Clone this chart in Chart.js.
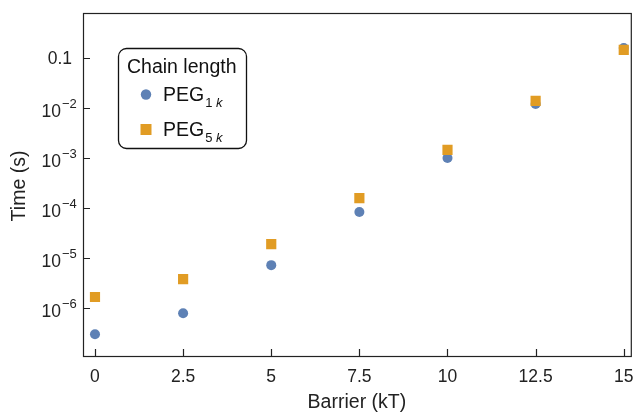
<!DOCTYPE html>
<html>
<head>
<meta charset="utf-8">
<script src="https://cdn.jsdelivr.net/npm/chart.js"></script>
<style>
  html, body { margin: 0; padding: 0; background: #fff; }
  #wrap { width: 638px; height: 413px; }
</style>
</head>
<body>
<div id="wrap"><canvas id="c" width="638" height="413"></canvas></div>
<script>
// barrier heights (kT)
const barrier = [0, 2.5, 5, 7.5, 10, 12.5, 15];
// times (s) per chain length
const peg1k = [3.0e-7, 7.9e-7, 7.2e-6, 8.3e-5, 1.0e-3, 1.2e-2, 0.158];
const peg5k = [1.66e-6, 3.8e-6, 1.9e-5, 1.58e-4, 1.45e-3, 1.38e-2, 0.145];

const xTicks = [0, 2.5, 5, 7.5, 10, 12.5, 15];
const yTicks = [1e-6, 1e-5, 1e-4, 1e-3, 1e-2, 0.1];
const yTickLabels = [["10", "−6"], ["10", "−5"], ["10", "−4"], ["10", "−3"], ["10", "−2"], ["0.1", ""]];

const BLUE = "#5e81b5";
const ORANGE = "#e19c24";
const FONT = "'Liberation Sans', Arial, sans-serif";

// frame, ticks, labels and legend drawn by hand, Mathematica style
const framePlugin = {
    id: "frame",
    afterDraw(chart) {
        const ctx = chart.ctx;
        const a = chart.chartArea;
        const xs = chart.scales.x, ys = chart.scales.y;
        ctx.save();
        ctx.strokeStyle = "#222";
        ctx.lineWidth = 1.2;
        ctx.strokeRect(a.left + 0.5, a.top + 0.5, a.right - a.left, a.bottom - a.top);

        // ticks, pointing in
        ctx.beginPath();
        xTicks.forEach(v => {
            const px = Math.round(xs.getPixelForValue(v)) + 0.5;
            ctx.moveTo(px, a.bottom);
            ctx.lineTo(px, a.bottom - 7);
        });
        yTicks.forEach(v => {
            const py = Math.round(ys.getPixelForValue(v)) + 0.5;
            ctx.moveTo(a.left, py);
            ctx.lineTo(a.left + 7, py);
        });
        ctx.stroke();

        ctx.fillStyle = "#222";
        ctx.font = "17.5px " + FONT;
        ctx.textAlign = "center";
        ctx.textBaseline = "alphabetic";
        xTicks.forEach(v => {
            ctx.fillText(String(v), xs.getPixelForValue(v), a.bottom + 26);
        });

        yTicks.forEach((v, i) => {
            const py = ys.getPixelForValue(v);
            const [base, sup] = yTickLabels[i];
            ctx.font = "17.5px " + FONT;
            if (!sup) {
                ctx.textAlign = "right";
                ctx.fillText(base, 72, py + 6.5);
            } else {
                ctx.textAlign = "right";
                ctx.fillText(base, 61, py + 9);
                ctx.textAlign = "left";
                ctx.font = "13px " + FONT;
                ctx.fillText(sup, 62, py);
            }
        });

        // axis titles
        ctx.font = "19.5px " + FONT;
        ctx.textAlign = "center";
        ctx.fillText("Barrier (kT)", (a.left + a.right) / 2, 408);
        ctx.save();
        ctx.translate(25, 186);
        ctx.rotate(-Math.PI / 2);
        ctx.fillText("Time (s)", 0, 0);
        ctx.restore();

        // legend box
        const lx = 118.5, ly = 48.5, lw = 128, lh = 100, r = 8;
        ctx.beginPath();
        ctx.moveTo(lx + r, ly);
        ctx.arcTo(lx + lw, ly, lx + lw, ly + lh, r);
        ctx.arcTo(lx + lw, ly + lh, lx, ly + lh, r);
        ctx.arcTo(lx, ly + lh, lx, ly, r);
        ctx.arcTo(lx, ly, lx + lw, ly, r);
        ctx.closePath();
        ctx.fillStyle = "#fff";
        ctx.fill();
        ctx.lineWidth = 1.3;
        ctx.strokeStyle = "#111";
        ctx.stroke();

        ctx.fillStyle = "#111";
        ctx.font = "19.5px " + FONT;
        ctx.textAlign = "left";
        ctx.fillText("Chain length", 127, 73);

        const entries = [
            { color: BLUE, shape: "circle", sub: "1", y: 94.5 },
            { color: ORANGE, shape: "rect", sub: "5", y: 129.5 }
        ];
        entries.forEach(e => {
            ctx.fillStyle = e.color;
            ctx.beginPath();
            if (e.shape === "circle") ctx.arc(146, e.y, 5.2, 0, Math.PI * 2);
            else ctx.rect(140.5, e.y - 5.5, 11, 11);
            ctx.fill();
            ctx.fillStyle = "#111";
            ctx.font = "19.5px " + FONT;
            ctx.fillText("PEG", 163, e.y + 6.5);
            const w = ctx.measureText("PEG").width;
            ctx.font = "13px " + FONT;
            ctx.fillText(e.sub, 163 + w + 1, e.y + 12);
            const w2 = ctx.measureText(e.sub + " ").width;
            ctx.font = "italic 13px " + FONT;
            ctx.fillText("k", 163 + w + 1 + w2, e.y + 12);
        });
        ctx.restore();
    }
};

new Chart(document.getElementById("c"), {
    type: "scatter",
    data: {
        datasets: [
            {
                label: "PEG1k",
                data: barrier.map((x, i) => ({ x: x, y: peg1k[i] })),
                backgroundColor: BLUE,
                borderWidth: 0,
                pointStyle: "circle",
                pointRadius: 5,
                pointHoverRadius: 5,
                order: 2
            },
            {
                label: "PEG5k",
                data: barrier.map((x, i) => ({ x: x, y: peg5k[i] })),
                backgroundColor: ORANGE,
                borderWidth: 0,
                pointStyle: "rect",
                pointRadius: 7.2,
                pointHoverRadius: 7.2,
                order: 1
            }
        ]
    },
    options: {
        responsive: false,
        animation: false,
        events: [],
        layout: { padding: { left: 0, right: 5, top: 13, bottom: 0 } },
        plugins: { legend: { display: false }, tooltip: { enabled: false } },
        scales: {
            x: {
                type: "linear",
                min: -0.34,
                max: 15.2,
                grid: { display: false },
                border: { display: false },
                ticks: { display: false },
                afterFit(s) { s.height = 57; }
            },
            y: {
                type: "logarithmic",
                min: 1.1e-7,
                max: 0.79,
                grid: { display: false },
                border: { display: false },
                ticks: { display: false },
                afterFit(s) { s.width = 83; }
            }
        }
    },
    plugins: [framePlugin]
});
</script>
</body>
</html>
